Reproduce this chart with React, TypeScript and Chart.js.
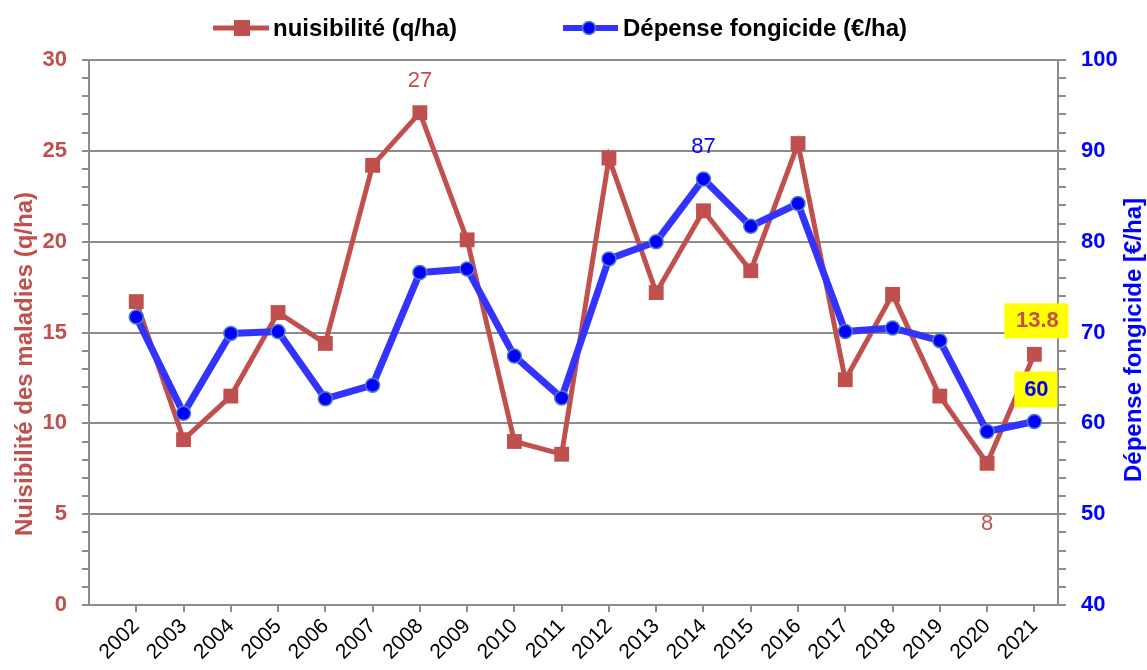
import React, { useEffect, useRef } from "react";
import { Chart, registerables } from "chart.js";

Chart.register(...registerables);

const years = [2002, 2003, 2004, 2005, 2006, 2007, 2008, 2009, 2010, 2011, 2012, 2013, 2014, 2015, 2016, 2017, 2018, 2019, 2020, 2021];
const nuisibilite = [16.7, 9.1, 11.5, 16.1, 14.4, 24.2, 27.1, 20.1, 9.0, 8.3, 24.6, 17.2, 21.7, 18.4, 25.4, 12.4, 17.1, 11.5, 7.8, 13.8];
const depense = [71.7, 61.1, 69.9, 70.1, 62.7, 64.2, 76.6, 77.0, 67.4, 62.8, 78.1, 80.0, 86.9, 81.7, 84.2, 70.1, 70.5, 69.1, 59.1, 60.2];

const RED = "#C0504D";
const BLUE_LINE = "#3333FF";
const BLUE = "#0000FF";
const GRAY = "#8C8C8C";
const FONT = "'Liberation Sans', Arial, sans-serif";

const overlayPlugin = {
  id: "overlay",
  afterDatasetsDraw(chart: any) {
    const ctx = chart.ctx;
    const red = chart.getDatasetMeta(0).data;
    const blue = chart.getDatasetMeta(1).data;
    ctx.save();
    ctx.textAlign = "center";
    ctx.textBaseline = "middle";
    ctx.font = `22px ${FONT}`;
    ctx.fillStyle = RED;
    const i08 = years.indexOf(2008);
    ctx.fillText(String(Math.round(nuisibilite[i08])), red[i08].x, red[i08].y - 32);
    const i20 = years.indexOf(2020);
    ctx.fillText(String(Math.round(nuisibilite[i20])), red[i20].x, red[i20].y + 61);
    ctx.fillStyle = BLUE;
    const i14 = years.indexOf(2014);
    ctx.fillText(String(Math.round(depense[i14])), blue[i14].x, blue[i14].y - 32);
    const i21 = years.indexOf(2021);
    ctx.font = `bold 22px ${FONT}`;
    ctx.fillStyle = "#FFFF00";
    ctx.fillRect(red[i21].x - 30, red[i21].y - 51, 64, 35);
    ctx.fillStyle = RED;
    ctx.fillText(nuisibilite[i21].toFixed(1), red[i21].x + 3, red[i21].y - 33);
    ctx.fillStyle = "#FFFF00";
    ctx.fillRect(blue[i21].x - 20, blue[i21].y - 50, 43, 36);
    ctx.fillStyle = BLUE;
    ctx.fillText(String(Math.round(depense[i21])), blue[i21].x + 2, blue[i21].y - 32);
    ctx.restore();
  },
  afterDraw(chart: any) {
    const ctx = chart.ctx;
    ctx.save();
    const ly = 28;
    ctx.lineWidth = 5;
    ctx.strokeStyle = RED;
    ctx.beginPath();
    ctx.moveTo(213, ly);
    ctx.lineTo(269, ly);
    ctx.stroke();
    ctx.fillStyle = RED;
    ctx.fillRect(234, ly - 8, 16, 16);
    ctx.font = `bold 24px ${FONT}`;
    ctx.textBaseline = "middle";
    ctx.textAlign = "left";
    ctx.fillStyle = "#000";
    ctx.fillText(chart.data.datasets[0].label, 273, ly + 1);

    ctx.lineWidth = 6;
    ctx.strokeStyle = BLUE_LINE;
    ctx.beginPath();
    ctx.moveTo(563, ly);
    ctx.lineTo(618, ly);
    ctx.stroke();
    ctx.beginPath();
    ctx.arc(589, ly, 6.5, 0, Math.PI * 2);
    ctx.fillStyle = BLUE;
    ctx.fill();
    ctx.lineWidth = 1.5;
    ctx.strokeStyle = "#4F81BD";
    ctx.stroke();
    ctx.fillStyle = "#000";
    ctx.fillText(chart.data.datasets[1].label, 623, ly + 1);

    ctx.textAlign = "center";
    ctx.save();
    ctx.translate(25, 364);
    ctx.rotate(-Math.PI / 2);
    ctx.fillStyle = RED;
    ctx.fillText("Nuisibilité des maladies (q/ha)", 0, 0);
    ctx.restore();
    ctx.save();
    ctx.translate(1134, 340);
    ctx.rotate(-Math.PI / 2);
    ctx.fillStyle = BLUE;
    ctx.fillText("Dépense fongicide [€/ha]", 0, 0);
    ctx.restore();
    ctx.restore();
  },
};

export default function App() {
  const ref = useRef<HTMLCanvasElement>(null);
  useEffect(() => {
    const chart = new Chart(ref.current as HTMLCanvasElement, {
      type: "line",
      data: {
        datasets: [
          {
            label: "nuisibilité (q/ha)",
            data: years.map((y, i) => ({ x: y, y: nuisibilite[i] })),
            borderColor: RED,
            backgroundColor: RED,
            borderWidth: 5,
            pointStyle: "rect",
            pointRadius: 10.5,
            pointBorderWidth: 0,
            pointBackgroundColor: RED,
            yAxisID: "y",
            order: 2,
          },
          {
            label: "Dépense fongicide (€/ha)",
            data: years.map((y, i) => ({ x: y, y: depense[i] })),
            borderColor: BLUE_LINE,
            backgroundColor: BLUE,
            borderWidth: 7,
            pointStyle: "circle",
            pointRadius: 7,
            pointBorderWidth: 1.5,
            pointBorderColor: "#4F81BD",
            pointBackgroundColor: BLUE,
            yAxisID: "y1",
            order: 1,
          },
        ],
      },
      options: {
        responsive: false,
        animation: false,
        layout: { padding: { top: 60, left: 0, right: 0, bottom: 0 } },
        plugins: {
          legend: { display: false },
          tooltip: { enabled: false },
        },
        scales: {
          x: {
            type: "linear",
            min: 2001,
            max: 2021.5,
            afterBuildTicks: (scale: any) => {
              scale.ticks = years.map((v) => ({ value: v }));
            },
            afterFit: (scale: any) => {
              scale.height = 65;
            },
            ticks: {
              autoSkip: false,
              maxRotation: 45,
              minRotation: 45,
              padding: 2,
              color: "#000",
              font: { family: FONT, size: 21 },
              callback: (v: any) => String(v),
            },
            grid: {
              drawOnChartArea: false,
              drawTicks: true,
              tickLength: 7,
              tickColor: GRAY,
              lineWidth: 2,
              color: GRAY,
            },
            border: { display: true, color: GRAY, width: 2 },
          },
          y: {
            type: "linear",
            position: "left",
            min: 0,
            max: 30,
            afterFit: (scale: any) => {
              scale.width = 89;
            },
            ticks: {
              stepSize: 1,
              autoSkip: false,
              padding: 15,
              color: RED,
              font: { family: FONT, size: 22, weight: "bold" },
              callback: (v: any) => (v % 5 === 0 ? String(v) : ""),
            },
            grid: {
              color: (c: any) => (c.tick && c.tick.value % 5 === 0 ? GRAY : "rgba(0,0,0,0)"),
              tickColor: GRAY,
              tickLength: 7,
              lineWidth: 2,
            },
            border: { display: true, color: GRAY, width: 2 },
          },
          y1: {
            type: "linear",
            position: "right",
            min: 40,
            max: 100,
            afterFit: (scale: any) => {
              scale.width = 89;
            },
            ticks: {
              stepSize: 2,
              autoSkip: false,
              padding: 15,
              color: BLUE,
              font: { family: FONT, size: 22, weight: "bold" },
              callback: (v: any) => (v % 10 === 0 ? String(v) : ""),
            },
            grid: {
              drawOnChartArea: false,
              tickColor: GRAY,
              tickLength: 8,
              lineWidth: 2,
            },
            border: { display: true, color: GRAY, width: 2 },
          },
        },
      } as any,
      plugins: [overlayPlugin],
    });
    return () => chart.destroy();
  }, []);
  return (
    <div style={{ position: "absolute", left: 0, top: 0, width: 1147, height: 670, background: "#fff" }}>
      <canvas ref={ref} width={1147} height={670} style={{ display: "block" }} />
    </div>
  );
}
